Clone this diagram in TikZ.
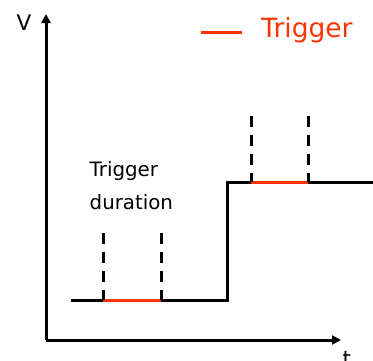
\documentclass[tikz,border=0pt]{standalone}
\usepackage{fontspec}
\setmainfont{DejaVu Sans}
\usetikzlibrary{arrows.meta}
\definecolor{trig}{RGB}{255,51,0}
\begin{document}
\begin{tikzpicture}[x=1pt,y=-1pt,
  axis/.style={line width=3pt,-{Triangle[length=9pt,width=9pt]}},
  sig/.style={line width=3pt,black,line join=miter},
  trg/.style={line width=3pt,trig},
  dsh/.style={line width=3pt,dash pattern=on 11pt off 8pt},
  lbl/.style={inner sep=0pt,anchor=base west}]
\useasboundingbox (0,0) rectangle (373,360);
% axes
\coordinate (O) at (46,340);
\coordinate (Ytop) at (46,14);
\coordinate (Xend) at (341,340);
\draw[axis] (O) -- (Ytop);
\draw[axis] (O) -- (Xend);
\node[lbl] (V) at (16.5,30.5) {\fontsize{21.5}{24}\selectfont V};
\node[lbl] (t) at (342.5,366) {\fontsize{21.5}{24}\selectfont t};
% signal
\coordinate (s0) at (71,300);
\coordinate (a1) at (103,300);
\coordinate (a2) at (161,300);
\coordinate (s1) at (227,300);
\coordinate (s2) at (227,182);
\coordinate (b1) at (251,182);
\coordinate (b2) at (308,182);
\coordinate (s3) at (374,182);
\draw[sig] (s0) -- (a1);
\draw[sig] (a2) -- (s1) -- (s2) -- (b1);
\draw[sig] (b2) -- (s3);
\draw[trg] (a1) -- (a2);
\draw[trg] (b1) -- (b2);
% dashed markers
\coordinate (a1t) at (103,233);
\coordinate (a2t) at (161,233);
\coordinate (b1t) at (251,115.5);
\coordinate (b2t) at (308,115.5);
\draw[dsh] (a1t) -- (a1);
\draw[dsh] (a2t) -- (a2);
\draw[dsh] (b1t) -- (b1);
\draw[dsh] (b2t) -- (b2);
% labels
\node[lbl] (dur1) at (89.5,176) {\fontsize{19.8}{24}\selectfont Trigger};
\node[lbl] (dur2) at (89.5,209.5) {\fontsize{19.8}{24}\selectfont duration};
% legend
\coordinate (L1) at (201,32);
\coordinate (L2) at (242,32);
\draw[trg] (L1) -- (L2);
\node[lbl,text=trig] (leg) at (261,37.5) {\fontsize{26.5}{28}\selectfont Trigger};
\end{tikzpicture}
\end{document}
